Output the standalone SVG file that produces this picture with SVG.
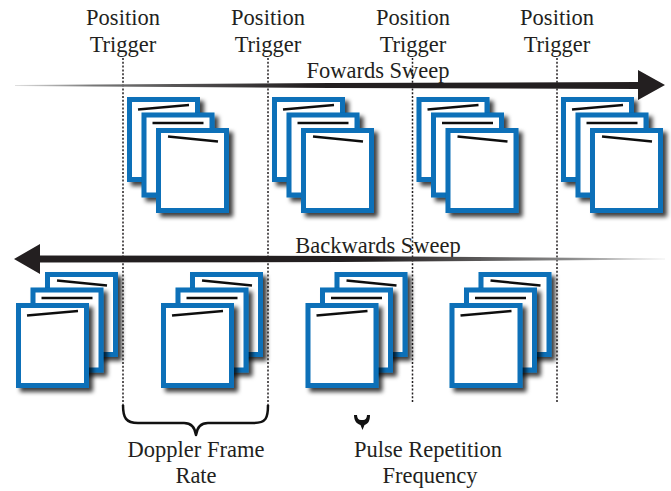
<svg xmlns="http://www.w3.org/2000/svg" xmlns:xlink="http://www.w3.org/1999/xlink" width="671" height="491" viewBox="0 0 671 491">
<style>
.lbl{font-family:"Liberation Serif","Times New Roman",serif;font-size:22.5px;fill:#231f20;text-anchor:middle}
.page{fill:#fff;stroke:#0a6fb8;stroke-width:5}
.ink{stroke:#111;stroke-width:2.5;fill:none}
.dot{stroke:#231f20;stroke-width:1.5;stroke-dasharray:2 1.8;fill:none}
.brace{stroke:#111;stroke-width:2.5;fill:none;stroke-linejoin:round}
</style>
<defs>
<filter id="sh" x="-20%" y="-20%" width="150%" height="150%">
<feDropShadow dx="4" dy="4" stdDeviation="2" flood-color="#000" flood-opacity="0.75"/>
</filter>
<g id="pageUp" filter="url(#sh)"><rect class="page" x="2.5" y="2.5" width="68" height="80"/><line class="ink" x1="11" y1="12.5" x2="62" y2="8"/></g>
<g id="pageFlat" filter="url(#sh)"><rect class="page" x="2.5" y="2.5" width="68" height="80"/><line class="ink" x1="11" y1="10.5" x2="62" y2="10.5"/></g>
<g id="pageDown" filter="url(#sh)"><rect class="page" x="2.5" y="2.5" width="68" height="80"/><line class="ink" x1="12" y1="8.5" x2="62" y2="13.5"/></g>
<linearGradient id="gf" gradientUnits="userSpaceOnUse" x1="15" y1="0" x2="665" y2="0">
<stop offset="0" stop-color="#e0e0e0"/><stop offset="0.12" stop-color="#777"/><stop offset="0.45" stop-color="#231f20"/><stop offset="1" stop-color="#231f20"/>
</linearGradient>
<linearGradient id="gb" gradientUnits="userSpaceOnUse" x1="14" y1="0" x2="665" y2="0">
<stop offset="0" stop-color="#231f20"/><stop offset="0.55" stop-color="#231f20"/><stop offset="0.85" stop-color="#888"/><stop offset="1" stop-color="#f0f0f0"/>
</linearGradient>
</defs>

<g id="labels">
<text class="lbl" x="123" y="25">Position</text><text class="lbl" x="123" y="52">Trigger</text>
<text class="lbl" x="268" y="25">Position</text><text class="lbl" x="268" y="52">Trigger</text>
<text class="lbl" x="413" y="25">Position</text><text class="lbl" x="413" y="52">Trigger</text>
<text class="lbl" x="557" y="25">Position</text><text class="lbl" x="557" y="52">Trigger</text>
<text class="lbl" x="378" y="78">Fowards Sweep</text>
<text class="lbl" x="378" y="253">Backwards Sweep</text>
<text class="lbl" x="196" y="457">Doppler Frame</text><text class="lbl" x="196" y="483">Rate</text>
<text class="lbl" x="428" y="457">Pulse Repetition</text><text class="lbl" x="430" y="483">Frequency</text>
</g>

<g id="connectors">
<line class="dot" x1="123" y1="58" x2="123" y2="405"/>
<line class="dot" x1="268" y1="58" x2="268" y2="405"/>
<line class="dot" x1="412.5" y1="58" x2="412.5" y2="402"/>
<line class="dot" x1="557" y1="58" x2="557" y2="402"/>
<polygon fill="url(#gf)" points="15,85 330,83 638,82 638,70 665,85 638,100 638,89 330,88 15,86"/>
<polygon fill="url(#gb)" points="14,259 40,244 40,255.5 340,256 665,258.5 665,259.5 340,262 40,262.5 40,274"/>
<path class="brace" d="M123,405 C123,418 126,423 138,423 L184,423 C192,423 195,428 196,435 C197,428 200,423 208,423 L254,423 C266,423 268,418 268,405"/>
<path fill="#111" d="M354,415 L357,415 C357,418 358.5,420 361,420 L363,420 C365.5,420 367,418 367,415 L370,415 C370,421 368,424 364.5,425 L362.5,430 L360.5,425 C357,424 354,421 354,415 Z"/>
</g>

<g id="fwd1" transform="translate(127,97)"><use href="#pageUp"/><use href="#pageFlat" x="14.5" y="15.5"/><use href="#pageDown" x="29" y="31"/></g>
<g id="fwd2" transform="translate(272,97)"><use href="#pageUp"/><use href="#pageFlat" x="14.5" y="15.5"/><use href="#pageDown" x="29" y="31"/></g>
<g id="fwd3" transform="translate(416.5,97)"><use href="#pageUp"/><use href="#pageFlat" x="14.5" y="15.5"/><use href="#pageDown" x="29" y="31"/></g>
<g id="fwd4" transform="translate(561,97)"><use href="#pageUp"/><use href="#pageFlat" x="14.5" y="15.5"/><use href="#pageDown" x="29" y="31"/></g>

<g id="bwd1" transform="translate(16,303)"><use href="#pageDown" x="29" y="-31"/><use href="#pageFlat" x="14.5" y="-15.5"/><use href="#pageUp"/></g>
<g id="bwd2" transform="translate(161,303)"><use href="#pageDown" x="29" y="-31"/><use href="#pageFlat" x="14.5" y="-15.5"/><use href="#pageUp"/></g>
<g id="bwd3" transform="translate(305.5,303)"><use href="#pageDown" x="29" y="-31"/><use href="#pageFlat" x="14.5" y="-15.5"/><use href="#pageUp"/></g>
<g id="bwd4" transform="translate(449.5,303)"><use href="#pageDown" x="29" y="-31"/><use href="#pageFlat" x="14.5" y="-15.5"/><use href="#pageUp"/></g>
</svg>
